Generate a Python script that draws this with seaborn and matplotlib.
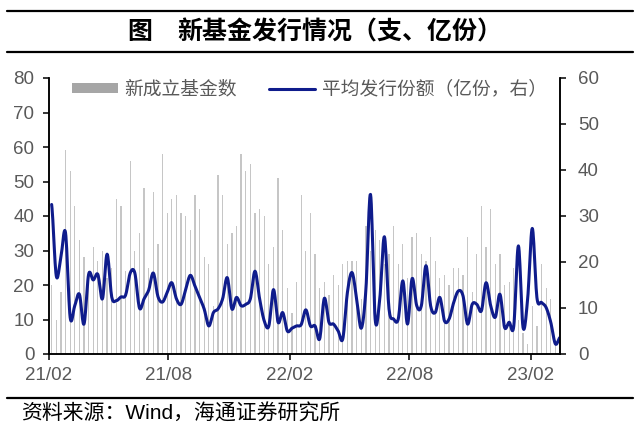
import numpy as np
import pandas as pd
import matplotlib
matplotlib.use("Agg")
import matplotlib.pyplot as plt
import matplotlib.dates as mdates
from matplotlib.lines import Line2D
from matplotlib.patches import Patch
import seaborn as sns

# ---------------- data ----------------
first_week = "2021-02-05"
fund_counts = [20, 10, 18, 59, 53, 43, 33, 28, 24, 31, 27, 30, 22, 25, 45, 43, 24, 56, 30, 35,
               48, 25, 47, 32, 58, 41, 45, 46, 41, 40, 36, 46, 42, 28, 26, 14, 52, 46, 32, 35,
               37, 58, 53, 55, 41, 42, 40, 26, 31, 51, 36, 19, 12, 21, 46, 30, 41, 29, 19, 21,
               17, 23, 20, 26, 27, 27, 27, 16, 37, 30, 36, 33, 26, 29, 37, 26, 32, 22, 34, 35,
               29, 27, 34, 27, 22, 23, 20, 25, 25, 23, 34, 18, 29, 43, 31, 42, 26, 29, 20, 21,
               25, 10, 6, 3, 14, 8, 26, 19, 16, 3, 2]
avg_size = [32.5, 17, 21, 26.4, 8, 10.5, 13, 6.5, 17.3, 16.1, 17.3, 12, 21.7, 12.4, 11.6, 12.4,
            12.8, 17.6, 17.6, 10, 12, 13.9, 17.6, 12.5, 11.3, 13.4, 15.5, 12, 10.8, 14, 17.1,
            14.8, 12.3, 9.8, 6.1, 9, 9.8, 12, 16.6, 9.8, 12.3, 10.5, 10.8, 12, 18, 12, 7.2, 6.1,
            14, 6.9, 9, 5, 5.6, 6.1, 6.4, 9.6, 6.1, 6.1, 3.3, 12.1, 6.9, 6.5, 5, 3.3, 13.4, 17.7,
            12, 5.6, 14, 34.7, 7.6, 12, 25.5, 9.8, 7.6, 7.6, 15.9, 6.5, 16.4, 10.5, 10.5, 19.2,
            10.5, 9, 12.3, 7.2, 7.6, 11.2, 13.7, 12.7, 6.5, 10.8, 10.8, 9.4, 15.5, 10.5, 8, 13,
            5.8, 6.9, 6.1, 23.5, 5.8, 12, 27.3, 12.3, 11.2, 10.1, 6.9, 2.2, 3.6]
tick_dates = ["2021-02-01", "2021-08-01", "2022-02-01", "2022-08-01", "2023-02-01"]
tick_labels = ["21/02", "21/08", "22/02", "22/08", "23/02"]
bar_label = "新成立基金数"
line_label = "平均发行份额（亿份，右）"
title_head = "图"
title_body = "新基金发行情况（支、亿份）"
source = "资料来源：Wind，海通证券研究所"

# ---------------- style ----------------
sns.set_theme(style="white")
plt.rcParams["font.family"] = ["Liberation Sans", "Noto Sans CJK SC", "DejaVu Sans"]
CJK = ["Noto Sans CJK SC", "DejaVu Sans"]
NAVY = "#0f1c8c"
BARC = "#c6c6c6"
LEGC = "#a6a6a6"
LBL = "#595959"

dates = pd.date_range(first_week, periods=len(fund_counts), freq="7D")
xnum = mdates.date2num(dates)


def smooth(x, y, n=12):
    """Catmull-Rom curve through the points (Excel-like smoothed line)."""
    x = np.asarray(x, float)
    y = np.asarray(y, float)
    xs, ys = [], []
    N = len(y)
    for i in range(N - 1):
        p0 = y[i - 1] if i > 0 else y[i]
        p1, p2 = y[i], y[i + 1]
        p3 = y[i + 2] if i + 2 < N else y[i + 1]
        t = np.linspace(0, 1, n, endpoint=False)
        yy = 0.5 * (2 * p1 + (-p0 + p2) * t + (2 * p0 - 5 * p1 + 4 * p2 - p3) * t ** 2
                    + (-p0 + 3 * p1 - 3 * p2 + p3) * t ** 3)
        xs.append(x[i] + (x[i + 1] - x[i]) * t)
        ys.append(yy)
    xs.append([x[-1]])
    ys.append([y[-1]])
    return np.concatenate(xs), np.concatenate(ys)


fig = plt.figure(figsize=(6.4, 4.3), dpi=100)
fig.patch.set_facecolor("white")
ax = fig.add_axes([49 / 640, 1 - 354 / 430, (560 - 49) / 640, (354 - 78) / 430])

sns.barplot(x=xnum, y=fund_counts, native_scale=True, width=0.27, color=BARC,
            saturation=1, errorbar=None, ax=ax, linewidth=0)

ax2 = ax.twinx()
xd, yd = smooth(xnum, avg_size)
sns.lineplot(x=xd, y=yd, ax=ax2, color=NAVY, linewidth=2.2, sort=False, estimator=None)

xlim = (mdates.date2num(pd.Timestamp("2021-02-01")), mdates.date2num(dates[-1]))
for a in (ax, ax2):
    a.set_xlim(*xlim)
    a.set_facecolor("none")
    a.grid(False)
    a.set_xlabel("")
    a.set_ylabel("")
ax.set_ylim(0, 80)
ax2.set_ylim(0, 60)
ax.set_yticks(np.arange(0, 81, 10))
ax2.set_yticks(np.arange(0, 61, 10))
ax.set_xticks(mdates.date2num(pd.to_datetime(tick_dates)))
ax.set_xticklabels(tick_labels)

for a in (ax, ax2):
    for s in a.spines.values():
        s.set_color("black")
        s.set_linewidth(1.1)
    a.spines["top"].set_visible(False)

ax.tick_params(axis="y", which="both", left=True, direction="out", length=4, width=1.1,
               color="black", labelcolor=LBL, labelsize=13.5, pad=6.5)
ax.tick_params(axis="x", which="both", bottom=True, direction="out", length=4, width=1.1,
               color="black", labelcolor=LBL, labelsize=13.5, pad=5)
ax2.tick_params(axis="y", which="both", right=True, direction="out", length=4, width=1.1,
                color="black", labelcolor=LBL, labelsize=13.5, pad=9)

handles = [Patch(facecolor=LEGC, edgecolor="none"), Line2D([], [], color=NAVY, lw=2.2)]
leg = ax2.legend(handles, [bar_label, line_label], ncol=2, loc="center left",
                 bbox_to_anchor=(72 / 640, 1 - 89 / 430), bbox_transform=fig.transFigure,
                 frameon=False, handlelength=2.45, handleheight=0.5, handletextpad=0.33,
                 columnspacing=1.75, borderpad=0, borderaxespad=0,
                 prop={"family": CJK, "size": 13.5})
for t in leg.get_texts():
    t.set_color(LBL)

# header / footer
for yy in (1 - 11 / 430, 1 - 52 / 430, 1 - 398 / 430):
    fig.add_artist(Line2D([7 / 640, 633 / 640], [yy, yy], transform=fig.transFigure,
                          color="black", lw=1.6))
fig.text(140 / 640, 1 - 32 / 430, title_head, ha="center", va="center", fontsize=18,
         fontweight="bold", family=CJK, color="black")
fig.text(177 / 640, 1 - 32 / 430, title_body, ha="left", va="center", fontsize=18,
         fontweight="bold", family=CJK, color="black")
fig.text(21 / 640, 1 - 414 / 430, source, ha="left", va="center", fontsize=15,
         family=["Liberation Sans", "Noto Sans CJK SC"], color="black")

fig.savefig("out.png", dpi=100, facecolor="white")
